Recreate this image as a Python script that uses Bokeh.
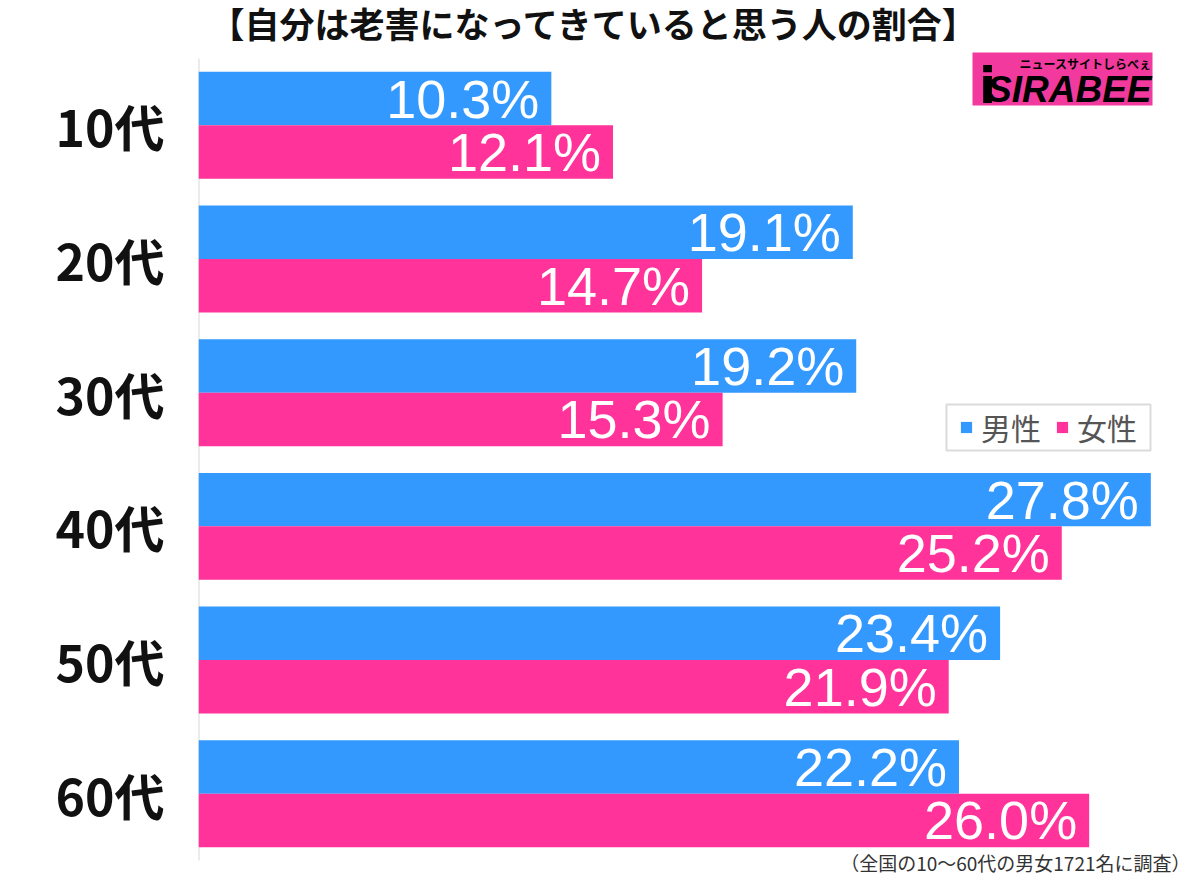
from bokeh.plotting import figure
from bokeh.models import (ColumnDataSource, Range1d, Legend, LegendItem, Label,
                          BoxAnnotation, FixedTicker)
from bokeh.core.properties import value
from bokeh.embed import file_html
from bokeh.resources import INLINE

# ---- data ----
categories = ["10代", "20代", "30代", "40代", "50代", "60代"]
male = [10.3, 19.1, 19.2, 27.8, 23.4, 22.2]
female = [12.1, 14.7, 15.3, 25.2, 21.9, 26.0]
series_names = ["男性", "女性"]
title_text = "【自分は老害になってきていると思う人の割合】"
note_text = "（全国の10～60代の男女1721名に調査）"

BLUE = "#3399FF"
PINK = "#FF3399"

W, H = 1200, 877
LEFT = 198
PLOT_TOP = 58          # pixel where the first category band starts
BAND = 133.67          # pixels per category
XMAX = 29.25
n = len(categories)

frame_w = W - LEFT
def dx(px):
    return (px - LEFT) * XMAX / frame_w
def dy(py):
    return (py - PLOT_TOP) / BAND

p = figure(width=W, height=H, output_backend="svg", toolbar_location=None,
           x_range=Range1d(0, XMAX), y_range=Range1d(dy(H), dy(0)),
           x_axis_location=None, min_border_left=LEFT, min_border_right=0,
           min_border_top=0, min_border_bottom=0)
p.outline_line_color = None
p.grid.visible = False
p.background_fill_color = "white"

idx = list(range(n))
src = ColumnDataSource(dict(
    cat=categories,
    male=male, female=female,
    y_m=[i + 0.3 for i in idx], y_f=[i + 0.7 for i in idx],
    lab_m=[f"{v:.1f}%" for v in male], lab_f=[f"{v:.1f}%" for v in female],
))

# vertical baseline line along the category bands
p.segment(x0=[0], y0=[0], x1=[0], y1=[n], line_color="#d8d8d8", line_width=2)

r_m = p.hbar(y="y_m", right="male", left=0, height=0.4, source=src,
             fill_color=BLUE, line_color=None)
r_f = p.hbar(y="y_f", right="female", left=0, height=0.4, source=src,
             fill_color=PINK, line_color=None)

for col, ycol, lab in (("male", "y_m", "lab_m"), ("female", "y_f", "lab_f")):
    p.text(x=col, y=ycol, text=lab, source=src, text_align="right",
           text_baseline="alphabetic", x_offset=-12, y_offset=0,
           text_color="white", text_font=value("Liberation Sans"),
           text_font_size="54px")

# y axis with category labels
ax = p.yaxis[0]
ax.ticker = FixedTicker(ticks=[i + 0.5 for i in idx])
ax.major_label_overrides = {i + 0.5: c for i, c in zip(idx, categories)}
ax.major_label_text_font = "Noto Sans CJK JP"
ax.major_label_text_font_style = "bold"
ax.major_label_text_font_size = "50px"
ax.major_label_text_color = "#111111"
ax.major_label_standoff = 28
ax.major_tick_line_color = None
ax.minor_tick_line_color = None
ax.axis_line_color = None

# legend frame box
p.add_layout(BoxAnnotation(left=dx(946), right=dx(1150), top=dy(404), bottom=dy(450),
                           fill_color="white", fill_alpha=1.0,
                           line_color="#888888", line_width=2))
legend = Legend(items=[LegendItem(label=series_names[0], renderers=[r_m]),
                       LegendItem(label=series_names[1], renderers=[r_f])],
                orientation="horizontal", location=(959 - LEFT, H - 449), margin=0,
                padding=0, spacing=14, label_standoff=8,
                glyph_width=14, glyph_height=14,
                label_text_font="Noto Sans CJK JP", label_text_font_size="30px",
                label_text_color="#555555", border_line_color=None,
                background_fill_alpha=0.0)
p.add_layout(legend)

# title
p.add_layout(Label(x=dx(594), y=dy(22), text=title_text, text_align="center",
                   text_baseline="middle", text_font="Noto Sans CJK JP",
                   text_font_style="bold", text_font_size="35px",
                   text_color="#111111"))

# footnote
p.add_layout(Label(x=dx(1190), y=dy(862), text=note_text, text_align="right",
                   text_baseline="middle", text_font="Noto Sans CJK JP",
                   text_font_size="19px", text_color="#333333"))

# logo
p.add_layout(BoxAnnotation(left=dx(972), right=dx(1152), top=dy(52), bottom=dy(105),
                           fill_color="#F23A9E", fill_alpha=1.0, line_color=None))
p.add_layout(Label(x=dx(987), y=dy(85), text="i", text_align="center",
                   text_baseline="alphabetic", text_font="DejaVu Sans",
                   text_font_style="bold", text_font_size="50px",
                   text_color="black"))
p.add_layout(Label(x=dx(1151), y=dy(89), text="SIRABEE", text_align="right",
                   text_baseline="alphabetic", text_font="Liberation Sans",
                   text_font_style="bold italic", text_font_size="37px",
                   text_color="black"))
p.add_layout(Label(x=dx(1151), y=dy(63), text="ニュースサイトしらべぇ", text_align="right",
                   text_baseline="alphabetic", text_font="Noto Sans CJK JP",
                   text_font_style="bold", text_font_size="12px",
                   text_color="black"))

open("out.html", "w").write(file_html(p, INLINE))
